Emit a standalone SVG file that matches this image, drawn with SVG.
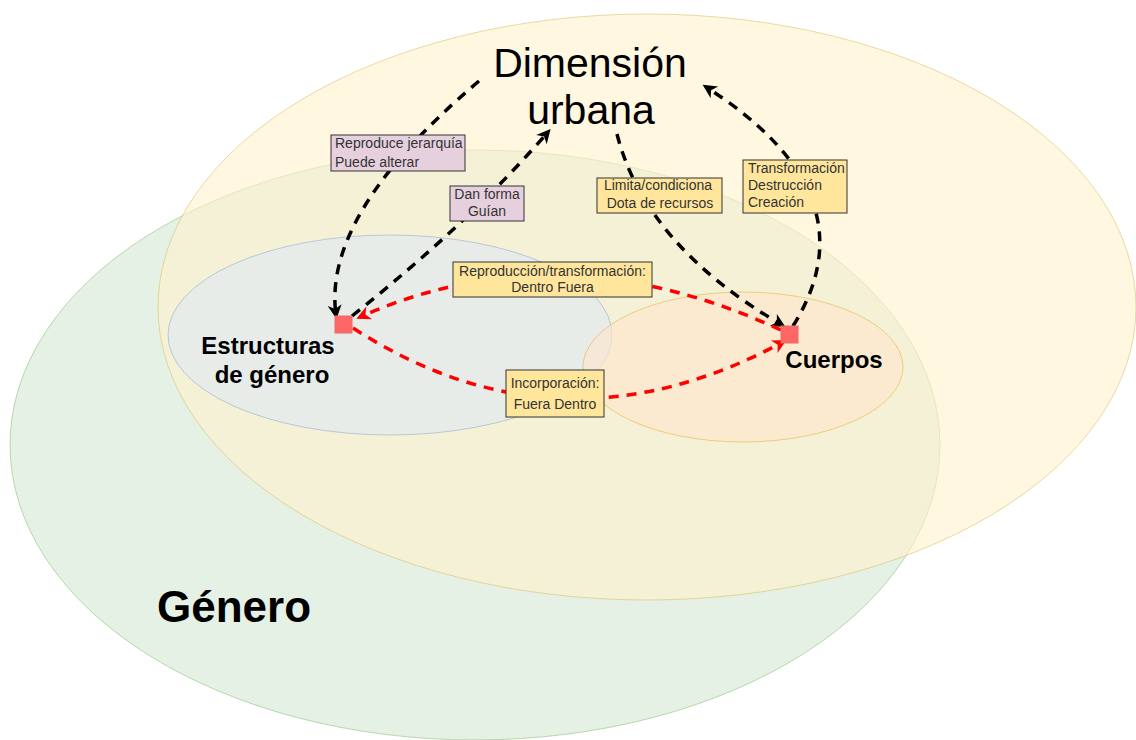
<svg xmlns="http://www.w3.org/2000/svg" width="1136" height="740" viewBox="0 0 1136 740">
<style>
.t{font-family:"Liberation Sans",Arial,sans-serif}
.big{font-size:41px;fill:#000;text-anchor:middle}
.bold{font-weight:bold;fill:#000;text-anchor:middle}
.lbl{font-size:14px;fill:#333}
.mid{text-anchor:middle}
.box-p{fill:#e6d0de;stroke:#333;stroke-width:1}
.box-y{fill:#ffe69c;stroke:#333;stroke-width:1}
.ed{fill:none;stroke-width:3.5;stroke-dasharray:10 8}
.blk{stroke:#000}
.red{stroke:#ff0000}
</style>
<defs>
<marker id="ab" viewBox="-15 -8 16 16" refX="-4" refY="0" markerWidth="16" markerHeight="16" markerUnits="userSpaceOnUse" orient="auto"><path d="M0,0 L-14,-7 L-10,0 L-14,7 Z" fill="#000"/></marker>
<marker id="ar" viewBox="-15 -8 16 16" refX="-4" refY="0" markerWidth="16" markerHeight="16" markerUnits="userSpaceOnUse" orient="auto"><path d="M0,0 L-14,-7 L-10,0 L-14,7 Z" fill="#ff0000"/></marker>
</defs>
<rect width="1136" height="740" fill="#fff"/>
<g id="genero">
<ellipse cx="475" cy="445" rx="465" ry="295" fill="#d5e8d4" fill-opacity="0.6" stroke="#82b366" stroke-opacity="0.5"/>
<text class="t bold" x="234" y="622" font-size="44">Género</text>
</g>
<g id="dimension-urbana">
<ellipse cx="647" cy="307" rx="489" ry="293" fill="#fff2cc" fill-opacity="0.6" stroke="#d6b656" stroke-opacity="0.5"/>
<text class="t big" x="590" y="77">Dimensión</text>
<text class="t big" x="591" y="124">urbana</text>
</g>
<g id="estructuras">
<ellipse cx="390" cy="335" rx="222" ry="100" fill="#dae8fc" fill-opacity="0.5" stroke="#6c8ebf" stroke-opacity="0.4"/>
<text class="t bold" x="268" y="354" font-size="24">Estructuras</text>
<text class="t bold" x="272" y="383" font-size="24">de género</text>
</g>
<g id="cuerpos">
<ellipse cx="743" cy="367" rx="160" ry="75" fill="#ffe6cc" fill-opacity="0.6" stroke="#d79b00" stroke-opacity="0.4"/>
<text class="t bold" x="834" y="368" font-size="24">Cuerpos</text>
</g>
<g id="connectors">
<path class="ed blk" d="M479 81 Q322 214 336 315" marker-end="url(#ab)"/>
<path class="ed blk" d="M352 316 Q470 222 548 132" marker-end="url(#ab)"/>
<path class="ed blk" d="M617 134 Q645 245 782 325" marker-end="url(#ab)"/>
<path class="ed blk" d="M793 326 Q875 195 706 87" marker-end="url(#ab)"/>
<path class="ed red" d="M781 330 Q560 228 360 317" marker-end="url(#ar)"/>
<path class="ed red" d="M353 328 Q560 462 783 342" marker-end="url(#ar)"/>
</g>
<g id="node-estructuras-point">
<rect x="335" y="316" width="17" height="17" fill="#ff6666" stroke="#ea6b66"/>
</g>
<g id="node-cuerpos-point">
<rect x="781" y="326" width="17" height="17" fill="#ff6666" stroke="#ea6b66"/>
</g>
<g id="label-reproduce">
<rect class="box-p" x="331" y="135" width="134" height="36"/>
<text class="t lbl" x="335" y="148">Reproduce jerarquía</text>
<text class="t lbl" x="335" y="167">Puede alterar</text>
</g>
<g id="label-dan-forma">
<rect class="box-p" x="450" y="186" width="74" height="35"/>
<text class="t lbl mid" x="487" y="199">Dan forma</text>
<text class="t lbl mid" x="487" y="216">Guían</text>
</g>
<g id="label-reproduccion">
<rect class="box-y" x="453" y="262" width="199" height="35"/>
<text class="t lbl mid" x="552.5" y="276">Reproducción/transformación:</text>
<text class="t lbl mid" x="552.5" y="292">Dentro Fuera</text>
</g>
<g id="label-limita">
<rect class="box-y" x="597" y="178" width="125" height="35"/>
<text class="t lbl mid" x="658" y="190">Limita/condiciona</text>
<text class="t lbl mid" x="660" y="208">Dota de recursos</text>
</g>
<g id="label-transformacion">
<rect class="box-y" x="743" y="160" width="104" height="53"/>
<text class="t lbl" x="748" y="173">Transformación</text>
<text class="t lbl" x="748" y="190">Destrucción</text>
<text class="t lbl" x="748" y="207">Creación</text>
</g>
<g id="label-incorporacion">
<rect class="box-y" x="506" y="370" width="98" height="47"/>
<text class="t lbl mid" x="555" y="388">Incorporación:</text>
<text class="t lbl mid" x="555" y="409">Fuera Dentro</text>
</g>
</svg>
